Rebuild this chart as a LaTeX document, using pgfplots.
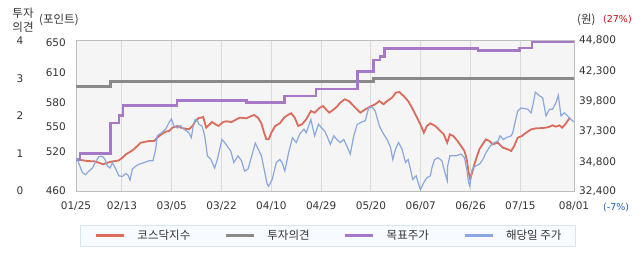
\documentclass[border=0pt]{standalone}
\usepackage{fontspec}
\setmainfont{DejaVu Sans}
\newfontfamily\kr{Noto Sans CJK KR}
\usepackage{pgfplots}
\usepackage{pgfplotstable}
\pgfplotsset{compat=1.18}
\definecolor{redc}{RGB}{218,108,92}
\definecolor{grayc}{RGB}{138,138,138}
\definecolor{purc}{RGB}{167,120,198}
\definecolor{bluec}{RGB}{138,168,222}
\definecolor{bgc}{RGB}{245,245,245}
\definecolor{gridc}{RGB}{218,218,218}
\definecolor{framec}{RGB}{190,190,190}
\definecolor{txt}{RGB}{51,51,51}
\definecolor{legbg}{RGB}{247,250,255}
\definecolor{legbd}{RGB}{218,228,236}
\definecolor{pctred}{RGB}{190,20,20}
\definecolor{pctblue}{RGB}{30,100,170}

\pgfplotstableread{
day kosdaq
0 500.0
1.2 499.2
3.0 497.9
4.7 497.5
6.0 495.8
7.1 493.7
8.2 495.8
9.5 497.5
10.4 497.9
11.2 498.8
12.1 502.1
13.0 506.4
13.8 508.5
15.1 512.7
16.0 516.9
16.9 521.1
17.8 521.9
19.1 523.2
20.4 523.2
21.2 527.4
22.3 531.6
23.4 535.0
24.3 535.8
25.2 540.1
26.5 542.2
27.3 540.1
28.6 538.8
29.5 538.0
30.4 542.2
31.2 548.5
32.1 552.7
32.7 552.7
33.2 553.5
34.0 540.1
34.9 544.3
35.5 547.2
36.4 544.3
37.2 542.2
38.4 547.2
39.2 548.1
40.6 547.2
41.9 550.6
42.7 552.7
44.5 551.9
45.8 554.8
46.5 556.1
47.5 552.7
48.4 545.5
49.1 533.7
49.7 525.3
50.3 525.3
51.0 533.7
52.0 542.2
53.2 545.5
54.3 552.7
55.3 556.1
56.2 558.2
57.1 552.7
58.0 542.2
59.0 544.3
60.1 550.6
61.3 561.1
62.3 559.0
63.6 565.3
64.5 567.4
65.1 564.1
66.1 559.0
67.3 563.2
68.1 566.6
69.0 571.7
70.1 575.9
71.2 573.8
72.5 567.4
74.2 559.0
75.5 563.2
76.8 566.6
78.1 569.6
79.2 573.8
80.3 569.6
81.2 573.8
82.5 578.0
83.5 584.3
84.4 585.2
85.5 580.1
86.7 573.8
87.7 565.3
88.8 554.8
89.9 544.3
90.8 533.7
91.6 542.2
92.5 545.5
93.8 542.2
95.1 535.8
96.0 531.6
96.9 521.1
97.6 531.6
98.5 529.5
99.6 523.2
100.5 516.9
101.4 510.6
102.0 500.0
102.5 483.2
102.9 474.8
103.4 483.2
104.0 493.7
104.7 504.2
105.3 512.7
106.3 520.3
107.0 525.3
107.9 523.2
108.8 519.0
110.1 521.1
111.4 514.8
112.7 512.7
113.6 510.6
114.4 516.9
115.3 527.4
116.4 529.5
117.5 533.7
118.8 537.9
120.1 539.2
121.8 539.6
122.7 540.1
123.6 541.3
124.4 543.0
125.3 541.3
126.2 543.0
126.9 540.1
127.7 544.3
128.6 550.6
129.0 552.7
}\kosdaq

\pgfplotstableread{
day opinion
0 2.78
9.05 2.91
77.7 2.99
130 2.99
}\opinion

\pgfplotstableread{
day target
0 35000
1.0 35500
9.0 38000
11.2 38650
12.3 39450
26.4 39850
44.5 39700
54.5 40250
62.7 40800
73.5 42250
77.7 43200
79.4 43500
80.6 44150
104.9 44000
115.7 44200
119.0 44700
130 44700
}\target

\pgfplotstableread{
day price
0 35150
0.4 34950
1.7 33900
2.5 33750
3.4 34050
4.3 34300
5.1 34800
6.0 35250
6.9 35250
7.5 35050
8.2 34450
8.9 34300
9.5 34750
10.4 34200
11.2 33650
12.1 33600
13.0 33850
13.6 33700
14.1 33300
14.7 34200
15.6 34450
16.4 34600
17.8 34750
19.1 34900
20.1 34900
20.8 35850
21.2 36950
22.3 37200
23.4 37500
24.3 38050
24.9 38350
25.6 37750
26.5 37600
27.2 37800
28.2 37500
29.5 37200
30.1 36800
30.6 37750
31.1 38300
31.7 38200
32.1 37900
32.9 37750
33.6 36950
34.3 35300
35.2 35000
36.2 34300
36.9 35000
37.5 35850
38.1 36650
38.8 36400
39.7 36000
40.4 35700
41.2 34750
42.3 35300
43.2 34900
44.0 34050
44.9 34200
46.8 36350
48.4 35300
49.3 33900
49.9 32950
50.3 32800
51.2 33350
52.3 34750
53.2 35000
53.8 34750
54.5 34050
55.5 35550
56.5 36800
57.5 36400
58.4 37100
59.5 37500
60.1 37200
61.3 38300
62.3 36950
63.3 37900
64.0 37650
64.9 37350
65.5 36950
66.4 36250
67.3 36950
68.1 36650
69.0 36400
69.9 36650
70.7 36100
71.6 35450
72.5 36950
73.4 37900
74.7 38100
75.5 38200
76.4 39250
77.3 39350
78.1 39000
79.2 37750
80.1 37200
81.2 36650
82.1 36000
82.7 35000
83.4 35850
84.2 36400
85.1 35850
86.0 34750
86.7 35000
87.3 34200
87.9 33350
88.8 33650
89.3 33100
89.9 32500
90.8 33100
91.6 33500
92.5 33650
92.9 34300
93.6 35000
94.5 35150
95.5 34900
96.2 34050
96.9 33250
97.0 34450
97.6 35300
99.2 35300
100.5 35450
101.4 35150
102.0 34200
102.5 33100
102.8 32800
103.4 34200
104.2 34450
105.3 34600
106.2 35000
107.0 35550
108.1 36100
109.2 36400
110.1 36500
110.7 36950
111.6 36650
112.3 36800
113.6 36950
114.0 37200
114.7 38200
115.3 39000
116.2 39250
117.9 39150
118.8 38850
119.4 39700
119.9 40550
121.0 40250
121.8 40100
122.7 38600
123.6 39150
124.4 39150
125.3 39700
125.9 40300
126.6 38600
127.5 38850
128.3 38600
129.2 38300
130.0 38100
}\price

\begin{document}
\begin{tikzpicture}[x=1pt,y=1pt]
\useasboundingbox (0,0) rectangle (642,268);
\pgfplotsset{base/.style={scale only axis, width=498pt, height=150.3pt,
  at={(76pt,77pt)}, anchor=south west, xmin=0, xmax=130,
  major tick length=0pt, scaled y ticks=false, scaled x ticks=false,
  tick label style={font=\fontsize{10.5}{12}\selectfont, text=txt, inner sep=0pt}}}

% Axis 1: background, grid, dates, KOSDAQ points
\begin{axis}[base,
  ymin=460, ymax=650,
  axis background/.style={fill=bgc},
  axis line style={draw=framec, line width=1pt},
  xtick={0,12,25,38,51,64,77,90,103,116,130},
  xticklabels={01/25,02/13,03/05,03/22,04/10,04/29,05/20,06/07,06/26,07/15,08/01},
  xmajorgrids, grid style={gridc, line width=1pt},
  xticklabel style={anchor=north, yshift=-11pt},
  ytick={460,509.3,540.9,571.6,609.2,647.5},
  yticklabels={460,520,550,580,610,650},
  yticklabel style={anchor=east, xshift=-10pt},
]
\addplot[redc, line width=1.8pt] table[x=day,y=kosdaq]{\kosdaq};
\end{axis}

% Axis 2: investment opinion
\begin{axis}[base,
  ymin=0, ymax=4,
  axis line style={draw=none},
  xtick=\empty,
  ytick={0,1,2,3,4}, yticklabels={0,1,2,3,4},
  yticklabel style={anchor=center, xshift=-56pt},
]
\addplot[grayc, line width=2.4pt, const plot] table[x=day,y=opinion]{\opinion};
\end{axis}

% Axis 3: prices
\begin{axis}[base,
  ymin=32400, ymax=44800,
  axis line style={draw=none},
  xtick=\empty,
  yticklabel pos=right,
  ytick={32400,34800,37300,39800,42300,44800},
  yticklabels={{32,400},{34,800},{37,300},{39,800},{42,300},{44,800}},
  yticklabel style={anchor=west, xshift=5pt},
  legend image code/.code={\draw[#1, line width=3pt] (0pt,0pt) -- (28pt,0pt);},
  legend style={at={(0.506,-0.226)}, anchor=north, draw=legbd, fill=legbg,
    line width=1pt, legend columns=4, inner xsep=14pt, inner ysep=5pt,
    font=\kr\fontsize{11.5}{13}\selectfont, text=txt,
    nodes={inner sep=0pt},
    /tikz/every odd column/.append style={column sep=12pt},
    /tikz/every even column/.append style={column sep=34pt}},
  legend cell align=left,
]
\addlegendimage{redc, line width=1.8pt}
\addlegendentry{코스닥지수}
\addlegendimage{grayc, line width=2.4pt}
\addlegendentry{투자의견}
\addplot[purc, line width=2.6pt, const plot] table[x=day,y=target]{\target};
\addlegendentry{목표주가}
\addplot[bluec, line width=1.2pt] table[x=day,y=price]{\price};
\addlegendentry{해당일 주가}
\end{axis}

\node[font=\kr\fontsize{11.5}{14}\selectfont, text=txt, align=center] at (23,248) {투자\\의견};
\node[font=\kr\fontsize{11.5}{14}\selectfont, text=txt, anchor=west, inner sep=0pt] at (39,248) {(포인트)};
\node[font=\kr\fontsize{11.5}{14}\selectfont, text=txt, anchor=west, inner sep=0pt] at (577,248) {(원)};
\node[font=\fontsize{9.5}{12}\selectfont, text=pctred, anchor=west, inner sep=0pt] at (603,248) {(27\%)};
\node[font=\fontsize{9.5}{12}\selectfont, text=pctblue, anchor=west, inner sep=0pt] at (603,60) {(-7\%)};
\end{tikzpicture}
\end{document}
